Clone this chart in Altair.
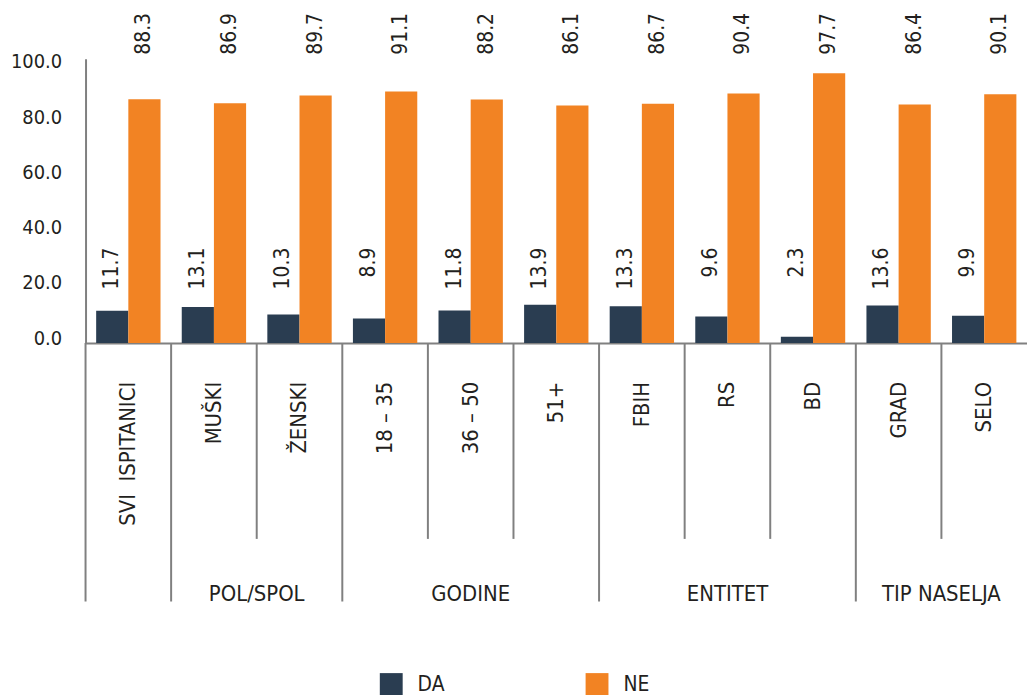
import altair as alt
import pandas as pd

categories = ["SVI\u00a0\u00a0ISPITANICI", "MUŠKI", "ŽENSKI", "18 – 35", "36 – 50", "51+",
              "FBIH", "RS", "BD", "GRAD", "SELO"]
da_values = [11.7, 13.1, 10.3, 8.9, 11.8, 13.9, 13.3, 9.6, 2.3, 13.6, 9.9]
ne_values = [88.3, 86.9, 89.7, 91.1, 88.2, 86.1, 86.7, 90.4, 97.7, 86.4, 90.1]
series = ["DA", "NE"]
group_names = ["", "POL/SPOL", "GODINE", "ENTITET", "TIP NASELJA"]
group_sizes = [1, 2, 3, 3, 2]
y_ticks = [0, 20, 40, 60, 80, 100]

FONT = "DejaVu Sans Condensed, DejaVu Sans, sans-serif"
NAVY = "#2a3d51"
ORANGE = "#f28323"
GREY = "#808080"
TXT = "#231f20"

rows = []
for c, d, n in zip(categories, da_values, ne_values):
    rows.append({"cat": c, "series": "DA", "value": d})
    rows.append({"cat": c, "series": "NE", "value": n})
df = pd.DataFrame(rows)

# separators and group labels
starts = []
i = 0
for s in group_sizes:
    starts.append(i)
    i += s
sep_rows = []
for k, c in enumerate(categories):
    sep_rows.append({"cat": c, "kind": "group" if k in starts else "inner"})
sep_df = pd.DataFrame(sep_rows)

glab_rows = []
for name, st, s in zip(group_names, starts, group_sizes):
    if not name:
        continue
    glab_rows.append({"cat": categories[st + s // 2], "label": name,
                      "mode": "edge" if s % 2 == 0 else "mid"})
glab_df = pd.DataFrame(glab_rows)
cat_df = pd.DataFrame({"cat": categories})

xscale = alt.Scale(domain=categories, paddingInner=0, paddingOuter=0)
xoff_scale = alt.Scale(domain=series, paddingInner=0, paddingOuter=0.33)

def X(**kw):
    return alt.X("cat:N", sort=categories, scale=xscale,
                 axis=alt.Axis(labels=False, ticks=False, title=None, domainColor=GREY,
                               domainWidth=2, grid=False), **kw)

bars = alt.Chart(df).mark_bar().encode(
    x=X(),
    xOffset=alt.XOffset("series:N", sort=series, scale=xoff_scale),
    y=alt.Y("value:Q", scale=alt.Scale(domain=[0, 103], nice=False),
            axis=alt.Axis(values=y_ticks, format=".1f", title=None, ticks=False, grid=False,
                          domainColor=GREY, domainWidth=2, labelFontSize=20, labelColor=TXT,
                          labelFont=FONT, labelPadding=24, labelOffset=-5)),
    color=alt.Color("series:N", scale=alt.Scale(domain=series, range=[NAVY, ORANGE]),
                    legend=alt.Legend(orient="none", legendX=296, legendY=618, direction="horizontal",
                                      title=None, symbolType="square", symbolSize=529,
                                      symbolStrokeWidth=0, labelFontSize=21, labelFont=FONT,
                                      labelColor=TXT, labelOffset=15, columnPadding=141, padding=0)),
)

lab_ne = alt.Chart(df).transform_filter(alt.datum.series == "NE").mark_text(
    angle=270, align="left", baseline="middle", fontSize=21, font=FONT, color=TXT
).encode(
    x=X(),
    xOffset=alt.XOffset("series:N", sort=series, scale=xoff_scale),
    y=alt.value(-4),
    text=alt.Text("value:Q", format=".1f"),
)
lab_da = alt.Chart(df).transform_filter(alt.datum.series == "DA").mark_text(
    angle=270, align="right", baseline="middle", fontSize=21, font=FONT, color=TXT
).encode(
    x=X(),
    xOffset=alt.XOffset("series:N", sort=series, scale=xoff_scale),
    y=alt.value(190),
    text=alt.Text("value:Q", format=".1f"),
)

sep_group = alt.Chart(sep_df).transform_filter(alt.datum.kind == "group").mark_rule(
    color=GREY, strokeWidth=2
).encode(x=X(bandPosition=0), y=alt.value(286), y2=alt.value(546))
sep_inner = alt.Chart(sep_df).transform_filter(alt.datum.kind == "inner").mark_rule(
    color=GREY, strokeWidth=2
).encode(x=X(bandPosition=0), y=alt.value(286), y2=alt.value(483))

cat_labels = alt.Chart(cat_df).mark_text(
    angle=270, align="right", baseline="middle", fontSize=22, font=FONT, color=TXT
).encode(x=X(), y=alt.value(325), text="cat:N")

g_edge = alt.Chart(glab_df).transform_filter(alt.datum.mode == "edge").mark_text(
    align="center", baseline="alphabetic", fontSize=22, font=FONT, color=TXT
).encode(x=X(bandPosition=0), y=alt.value(545), text="label:N")
g_mid = alt.Chart(glab_df).transform_filter(alt.datum.mode == "mid").mark_text(
    align="center", baseline="alphabetic", fontSize=22, font=FONT, color=TXT
).encode(x=X(bandPosition=0.5), y=alt.value(545), text="label:N")

chart = alt.layer(bars, lab_ne, lab_da, sep_group, sep_inner, cat_labels, g_edge, g_mid).properties(
    width=947, height=286,
    padding={"left": 78, "top": 49, "right": 0, "bottom": 352},
    autosize=alt.AutoSizeParams(type="none"),
).configure_view(stroke=None)

chart.save("out.html", embed_options={"renderer": "svg", "actions": False})
